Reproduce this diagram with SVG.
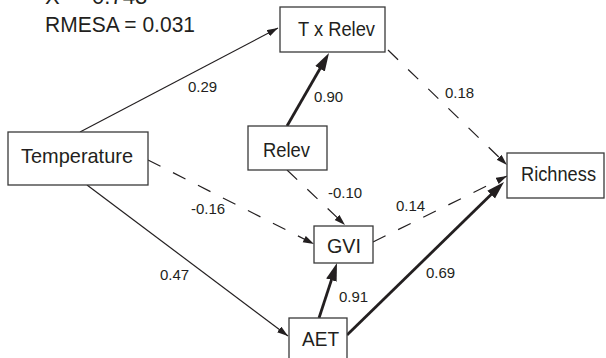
<svg xmlns="http://www.w3.org/2000/svg" width="606" height="358" viewBox="0 0 606 358">
<style>
  .box { fill: #ffffff; stroke: #3a3a3a; stroke-width: 1.3; }
  .nl { font-family: "Liberation Sans", Arial, sans-serif; font-size: 21px; fill: #231f20; }
  .el { font-family: "Liberation Sans", Arial, sans-serif; font-size: 15px; fill: #231f20; }
  .hd { font-family: "Liberation Sans", Arial, sans-serif; font-size: 22px; fill: #231f20; }
  .thin { stroke: #231f20; stroke-width: 1.2; fill: none; marker-end: url(#ah); }
  .dash { stroke: #231f20; stroke-width: 1.2; fill: none; stroke-dasharray: 14 14; marker-end: url(#ah); }
  .thick { stroke: #231f20; stroke-width: 2.8; fill: none; marker-end: url(#ahb); }
</style>
<defs>
  <marker id="ah" markerUnits="userSpaceOnUse" markerWidth="12" markerHeight="8" refX="11" refY="3.5" orient="auto">
    <path d="M0,0 L11,3.5 L0,7 Z" fill="#231f20"/>
  </marker>
  <marker id="ahb" markerUnits="userSpaceOnUse" markerWidth="19" markerHeight="12" refX="10" refY="5.5" orient="auto">
    <path d="M0,0 L18,5.5 L0,11 Z" fill="#231f20"/>
  </marker>
</defs>
<rect width="606" height="358" fill="#ffffff"/>
<text class="hd" x="45" y="4">X² = 0.743</text>
<text class="hd" x="45" y="32" textLength="150" lengthAdjust="spacingAndGlyphs">RMESA = 0.031</text>
<g id="connectors">
  <line class="thin" x1="80" y1="132" x2="278" y2="28"/>
  <line class="thick" x1="287" y1="126" x2="325" y2="60"/>
  <line class="dash" x1="388" y1="50" x2="507" y2="165"/>
  <line class="dash" x1="148" y1="160" x2="314" y2="244"/>
  <line class="dash" x1="287" y1="170" x2="345" y2="225"/>
  <line class="dash" x1="373" y1="242" x2="507" y2="176"/>
  <line class="thin" x1="87" y1="185" x2="288" y2="336"/>
  <line class="thick" x1="319" y1="318" x2="334.5" y2="270.6"/>
  <line class="thick" x1="347" y1="335" x2="498.3" y2="187.6"/>
  <text class="el" x="188" y="92">0.29</text>
  <text class="el" x="314" y="102">0.90</text>
  <text class="el" x="445" y="98">0.18</text>
  <text class="el" x="191" y="214">-0.16</text>
  <text class="el" x="328" y="198">-0.10</text>
  <text class="el" x="396" y="211">0.14</text>
  <text class="el" x="160" y="280">0.47</text>
  <text class="el" x="339" y="302">0.91</text>
  <text class="el" x="426" y="278">0.69</text>
</g>
<g id="temperature">
  <rect class="box" x="8" y="132" width="140" height="53"/>
  <text class="nl" x="21" y="163" textLength="112" lengthAdjust="spacingAndGlyphs">Temperature</text>
</g>
<g id="txrelev">
  <rect class="box" x="280" y="7" width="105" height="45"/>
  <text class="nl" x="298" y="36" textLength="77" lengthAdjust="spacingAndGlyphs">T x Relev</text>
</g>
<g id="relev">
  <rect class="box" x="248" y="126" width="79" height="44"/>
  <text class="nl" x="263" y="157" textLength="47" lengthAdjust="spacingAndGlyphs">Relev</text>
</g>
<g id="gvi">
  <rect class="box" x="314" y="226" width="59" height="37"/>
  <text class="nl" x="327" y="253" textLength="34" lengthAdjust="spacingAndGlyphs">GVI</text>
</g>
<g id="aet">
  <rect class="box" x="289" y="318" width="58" height="45"/>
  <text class="nl" x="302" y="346" textLength="37" lengthAdjust="spacingAndGlyphs">AET</text>
</g>
<g id="richness">
  <rect class="box" x="507" y="153" width="97" height="45"/>
  <text class="nl" x="521" y="181" textLength="75" lengthAdjust="spacingAndGlyphs">Richness</text>
</g>
</svg>
